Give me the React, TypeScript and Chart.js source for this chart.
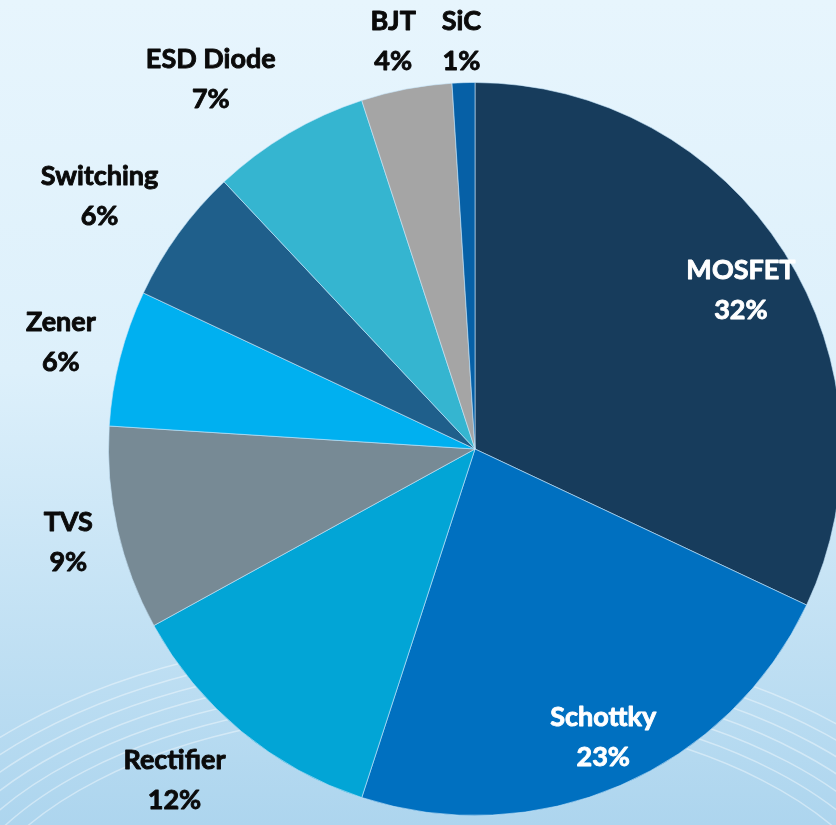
import React, { useEffect, useRef } from "react";
import { Chart, registerables } from "chart.js";

Chart.register(...registerables);

const categories = ["MOSFET", "Schottky", "Rectifier", "TVS", "Zener", "Switching", "ESD Diode", "BJT", "SiC"];
const shares = [32, 23, 12, 9, 6, 6, 7, 4, 1];
const sliceColors = ["#173C5C", "#0070C0", "#02A5D6", "#778A95", "#00B0F0", "#1F5F8B", "#35B5D0", "#A5A5A5", "#0660A6"];

const FONT = "bold 27px Lato, 'Open Sans', sans-serif";
const LINE_H = 40;

const backgroundPlugin = {
  id: "bgArcs",
  beforeDraw(chart: any) {
    const { ctx } = chart;
    ctx.save();
    ctx.strokeStyle = "rgba(255,255,255,0.4)";
    ctx.lineWidth = 1.5;
    const cx = 430;
    const cy = 950;
    for (let i = 0; i < 7; i++) {
      const rx = 470 + i * 18;
      const ry = 240 + i * 13;
      ctx.beginPath();
      ctx.ellipse(cx, cy, rx, ry, 0, Math.PI, Math.PI * 2);
      ctx.stroke();
    }
    ctx.restore();
  },
};

const clampUnit = (v: number) => Math.max(-1, Math.min(1, v));

const labelPlugin = {
  id: "sliceLabels",
  afterDatasetsDraw(chart: any) {
    const { ctx } = chart;
    const meta = chart.getDatasetMeta(0);
    const data = chart.data.datasets[0].data as number[];
    const total = data.reduce((a, b) => a + b, 0);
    ctx.save();
    ctx.font = FONT;
    ctx.textAlign = "center";
    ctx.textBaseline = "middle";
    ctx.lineJoin = "round";
    ctx.lineWidth = 0.9;
    meta.data.forEach((arc: any, i: number) => {
      const { x, y, startAngle, endAngle, outerRadius } = arc.getProps(
        ["x", "y", "startAngle", "endAngle", "outerRadius"],
        true
      );
      const mid = (startAngle + endAngle) / 2;
      const pct = Math.round((data[i] / total) * 100) + "%";
      const lines = [chart.data.labels[i] as string, pct];
      const cos = Math.cos(mid);
      const sin = Math.sin(mid);
      let lx: number, ly: number;
      const share = data[i] / total;
      let color: string;
      if (share >= 0.15) {
        const d = outerRadius * 0.84;
        lx = x + cos * d + 6;
        ly = y + sin * d + 6;
        color = "#FFFFFF";
      } else {
        const w = Math.max(...lines.map((t) => ctx.measureText(t).width));
        const hw = w / 2;
        const hh = 38;
        const gap = 25;
        lx = x + cos * (outerRadius + gap) + hw * clampUnit(cos * 2);
        ly = y + sin * (outerRadius + gap) + hh * sin;
        ly = Math.max(ly, LINE_H + 1);
        ly = Math.min(ly, chart.height - LINE_H + 5);
        lx = Math.max(lx, hw + 6);
        color = "#0A0A0A";
      }
      ctx.fillStyle = color;
      ctx.strokeStyle = color;
      [lines[0], lines[1]].forEach((t, k) => {
        const ty = ly + (k === 0 ? -LINE_H / 2 : LINE_H / 2);
        ctx.strokeText(t, lx, ty);
        ctx.fillText(t, lx, ty);
      });
    });
    ctx.restore();
  },
};

export default function App() {
  const ref = useRef<HTMLCanvasElement | null>(null);
  useEffect(() => {
    if (!ref.current) return;
    const chart = new Chart(ref.current, {
      type: "pie",
      data: {
        labels: categories,
        datasets: [
          {
            data: shares,
            backgroundColor: sliceColors,
            borderColor: "rgba(200,230,250,0.6)",
            borderWidth: 1,
          },
        ],
      },
      options: {
        responsive: false,
        animation: false,
        events: [],
        layout: { padding: { left: 108, right: 108, top: 82, bottom: 9 } },
        plugins: {
          legend: { display: false },
          tooltip: { enabled: false },
        },
      },
      plugins: [backgroundPlugin, labelPlugin],
    });
    return () => chart.destroy();
  }, []);
  return (
    <div
      style={{
        position: "fixed",
        left: 0,
        top: 0,
        width: 836,
        height: 825,
        overflow: "hidden",
        background: "linear-gradient(to bottom, #E7F5FD 0%, #DDF0FB 45%, #ADD5EE 100%)",
      }}
    >
      <canvas ref={ref} width={950} height={825} style={{ display: "block", width: 950, height: 825 }} />
    </div>
  );
}
